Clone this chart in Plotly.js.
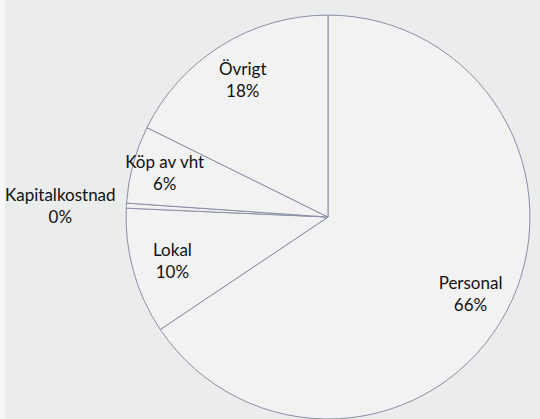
<!DOCTYPE html>
<html>
<head>
<meta charset="utf-8">
<script src="https://cdn.plot.ly/plotly-3.0.1.min.js"></script>
<style>
  html, body { margin: 0; padding: 0; background: #f8f8f8; }
  #chart { width: 540px; height: 419px; }
</style>
</head>
<body>
<div id="chart"></div>
<script>
const categories = ['Personal', 'Lokal', 'Kapitalkostnad', 'Köp av vht', 'Övrigt'];
const values = [65.6, 10.1, 0.4, 6.2, 17.7];
const textPositions = ['inside', 'inside', 'outside', 'inside', 'inside'];

const pieDomain = { x: [0.2333, 0.9815], y: [0, 0.964] };

// slices (no text)
const slices = {
  type: 'pie',
  labels: categories,
  values: values,
  sort: false,
  direction: 'clockwise',
  rotation: 0,
  textinfo: 'none',
  marker: {
    colors: categories.map(() => '#f2f2f2'),
    line: { color: '#8a8fa3', width: 1 }
  },
  domain: pieDomain,
  hoverinfo: 'none'
};

// transparent ring carrying the data labels toward the rim
const labelsRing = {
  type: 'pie',
  labels: categories,
  values: values,
  sort: false,
  direction: 'clockwise',
  rotation: 0,
  hole: 0.6,
  textposition: textPositions,
  insidetextorientation: 'horizontal',
  texttemplate: '%{label}<br>%{percent:.0%}',
  textfont: { family: 'Lato, "Open Sans", sans-serif', size: 17, color: '#111111' },
  marker: {
    colors: categories.map(() => 'rgba(0,0,0,0)'),
    line: { width: 0 }
  },
  domain: pieDomain,
  hoverinfo: 'none'
};

const layout = {
  width: 540,
  height: 419,
  margin: { l: 0, r: 0, t: 0, b: 0 },
  paper_bgcolor: '#ebecec',
  showlegend: false,
  uniformtext: { mode: 'show', minsize: 17 },
  shapes: [
    { type: 'rect', xref: 'paper', yref: 'paper', x0: 0, x1: 5 / 540, y0: 0, y1: 1,
      fillcolor: '#f8f8f8', line: { width: 0 }, layer: 'below' }
  ]
};

Plotly.newPlot('chart', [slices, labelsRing], layout, { displayModeBar: false, staticPlot: true });
</script>
</body>
</html>
